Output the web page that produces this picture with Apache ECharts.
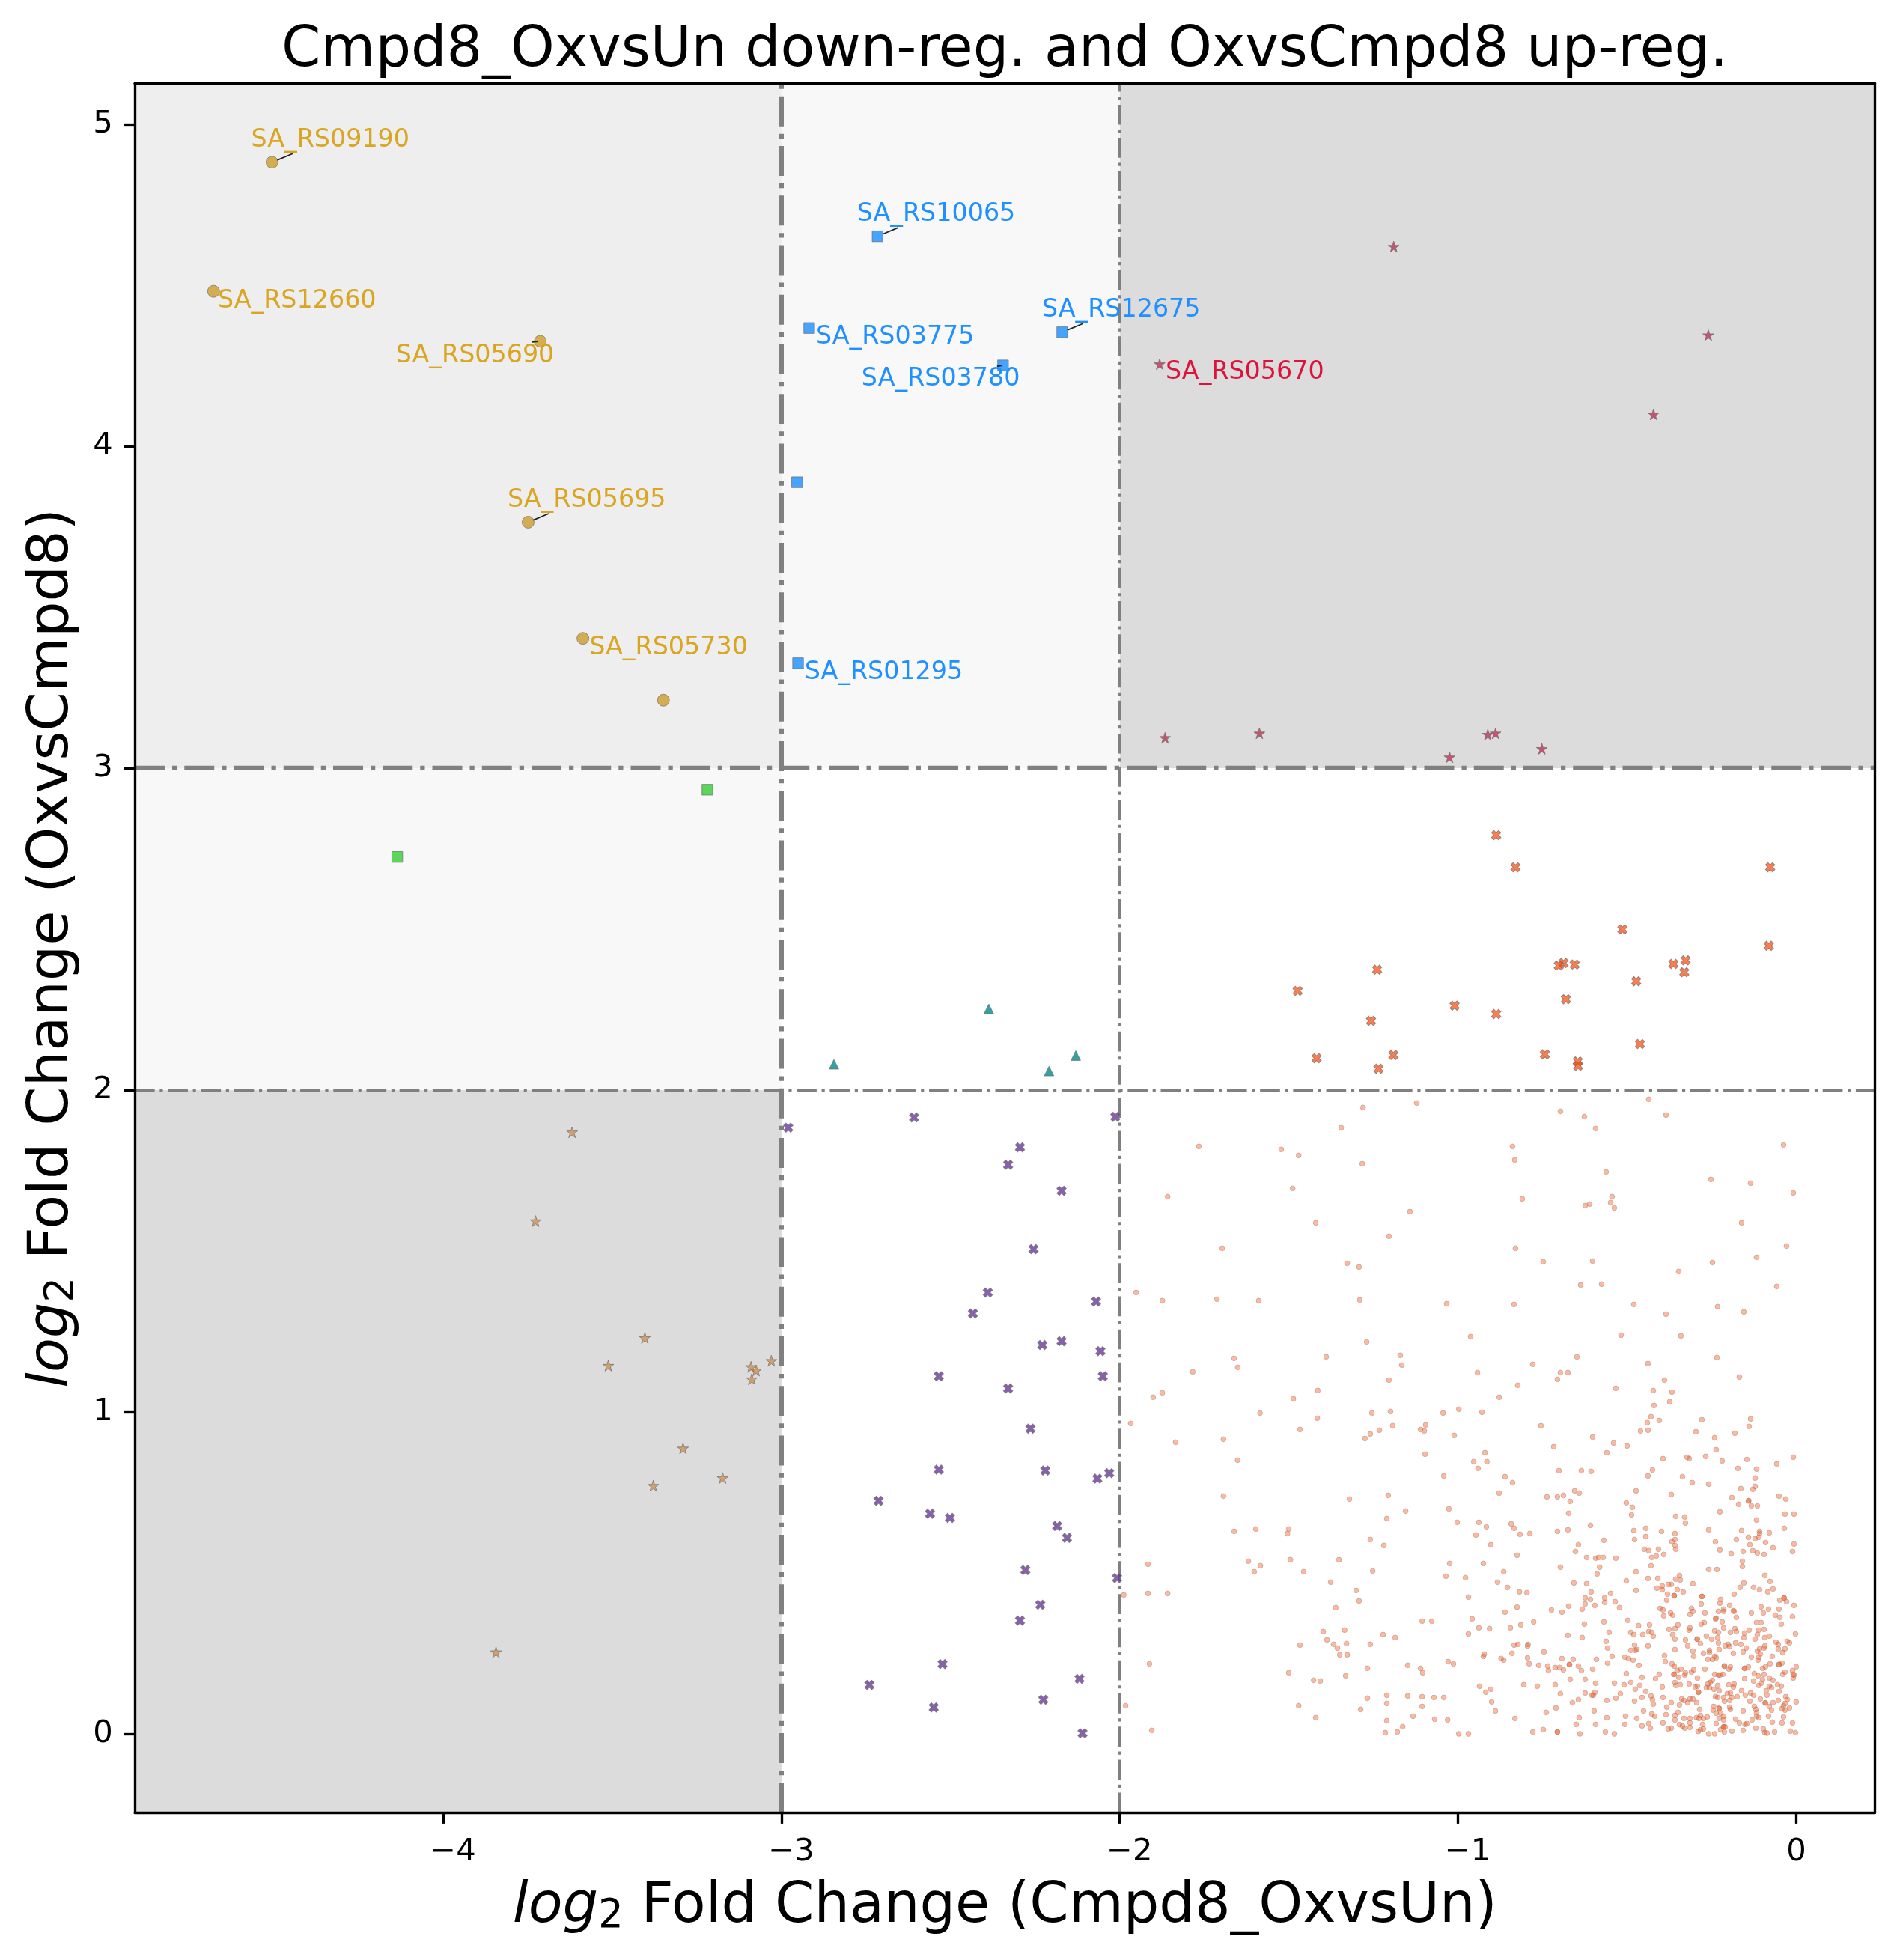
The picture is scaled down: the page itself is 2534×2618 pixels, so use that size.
<!DOCTYPE html>
<html><head><meta charset="utf-8">
<style>html,body{margin:0;padding:0;background:#fff}#c{width:2534px;height:2618px}</style>
<script src="https://cdn.jsdelivr.net/npm/echarts@6/dist/echarts.min.js"></script>
</head><body><div id="c"></div>
<script>
const titleText = 'Cmpd8_OxvsUn down-reg. and OxvsCmpd8 up-reg.';
const xTicks = [-4,-3,-2,-1,0];
const yTicks = [0,1,2,3,4,5];
const xCuts = [-3,-2];
const yCuts = [2,3];
const xMin = -4.912, xMax = 0.2326, yMin = -0.2449, yMax = 5.1267;

const goldPoints = [[-4.506,4.882,'SA_RS09190'],[-4.679,4.481,'SA_RS12660'],[-3.713,4.326,'SA_RS05690'],[-3.749,3.764,'SA_RS05695'],[-3.587,3.403,'SA_RS05730'],[-3.349,3.211,'']];
const bluePoints = [[-2.716,4.652,'SA_RS10065'],[-2.918,4.367,'SA_RS03775'],[-2.345,4.251,'SA_RS03780'],[-2.170,4.354,'SA_RS12675'],[-2.954,3.888,''],[-2.951,3.326,'SA_RS01295']];
const crimsonPoints = [[-1.190,4.620,''],[-1.882,4.255,'SA_RS05670'],[-0.260,4.345,''],[-0.422,4.099,''],[-1.866,3.094,''],[-1.587,3.108,''],[-1.025,3.034,''],[-0.912,3.104,''],[-0.889,3.108,''],[-0.752,3.060,'']];
const greenPoints = [[-4.136,2.724],[-3.219,2.933]];
const tealPoints = [[-2.845,2.080],[-2.387,2.252],[-2.209,2.059],[-2.130,2.107]];
const coralXPoints = [[-0.887,2.792],[-0.830,2.692],[-0.077,2.692],[-0.514,2.499],[-0.081,2.448],[-0.688,2.395],[-0.702,2.387],[-0.655,2.390],[-0.327,2.403],[-0.363,2.392],[-0.331,2.366],[-1.239,2.374],[-0.473,2.338],[-1.474,2.308],[-0.681,2.282],[-1.010,2.262],[-0.887,2.236],[-1.257,2.215],[-0.462,2.143],[-1.191,2.109],[-1.418,2.099],[-0.743,2.111],[-0.646,2.089],[-0.645,2.075],[-1.235,2.066]];
const tanStarPoints = [[-3.619,1.869],[-3.727,1.593],[-3.404,1.230],[-3.512,1.144],[-3.030,1.159],[-3.090,1.140],[-3.075,1.129],[-3.088,1.102],[-3.291,0.887],[-3.174,0.795],[-3.379,0.771],[-3.844,0.254]];
const purpleXPoints = [[-2.980,1.883],[-2.608,1.915],[-2.013,1.917],[-2.295,1.822],[-2.330,1.768],[-2.172,1.687],[-2.255,1.506],[-2.390,1.371],[-2.434,1.306],[-2.070,1.343],[-2.229,1.208],[-2.172,1.220],[-2.057,1.189],[-2.050,1.111],[-2.535,1.111],[-2.330,1.073],[-2.264,0.948],[-2.535,0.821],[-2.220,0.818],[-2.031,0.810],[-2.066,0.793],[-2.713,0.724],[-2.561,0.684],[-2.502,0.671],[-2.185,0.646],[-2.156,0.609],[-2.279,0.509],[-2.008,0.484],[-2.235,0.401],[-2.295,0.352],[-2.524,0.217],[-2.119,0.171],[-2.740,0.152],[-2.226,0.106],[-2.550,0.082],[-2.110,0.002]];

const smallUpperLeft = [[-1.1217,1.9597],[-1.2809,1.9457],[-1.3453,1.8829],[-1.7661,1.8248],[-1.5223,1.8155],[-1.4711,1.7969],[-1.2832,1.7713],[-1.489,1.6946],[-1.8585,1.669],[-1.1419,1.6225],[-1.4206,1.5876],[-1.204,1.5457],[-1.697,1.5085],[-1.3275,1.462],[-1.2925,1.4504],[-1.9517,1.3713],[-1.874,1.3457],[-1.7126,1.3504],[-1.5891,1.3457],[-1.2902,1.348],[-1.0332,1.336],[-1.27,1.2178],[-0.9625,1.2341],[-1.6621,1.1667],[-1.3896,1.1713],[-1.1706,1.176],[-1.6512,1.1387],[-1.166,1.1457],[-1.784,1.1248],[-0.9424,1.1225],[-1.204,1.0992],[-1.874,1.0597],[-1.9012,1.0457],[-1.4144,1.0667],[-1.4866,1.0411],[-1.5852,0.9969],[-1.2545,0.9969],[-1.1994,1.0016],[-1.0441,0.9969],[-0.9975,1.0085],[-0.9292,0.9992],[-1.416,0.9806]];
const smallUpperRight = [[-0.436,1.9713],[-0.6971,1.9341],[-0.6263,1.9178],[-0.385,1.9225],[-0.5931,1.8806],[-0.8388,1.8248],[-0.0376,1.8294],[-0.8322,1.7829],[-0.5621,1.7457],[-0.2522,1.7225],[-0.1349,1.7109],[-0.0088,1.6806],[-0.81,1.662],[-0.5444,1.669],[-0.5488,1.6504],[-0.6108,1.6457],[-0.6241,1.6411],[-0.5378,1.6341],[-0.1615,1.5876],[-0.0287,1.5155],[-0.83,1.5085],[-0.1172,1.4806],[-0.7481,1.4667],[-0.602,1.469],[-0.2478,1.4643],[-0.3474,1.4364],[-0.6374,1.3946],[-0.5754,1.3969],[-0.0575,1.39],[-0.8344,1.334],[-0.4802,1.334],[-0.2323,1.3271],[-0.385,1.3039],[-0.1549,1.3108],[-0.5179,1.2388],[-0.3408,1.2364],[-0.6484,1.1713],[-0.2345,1.169],[-0.779,1.1481],[-0.4382,1.1504],[-0.6971,1.1225],[-0.675,1.1225],[-0.706,1.1016],[-0.1681,1.1085],[-0.3895,1.0992],[-0.8233,1.0829],[-0.5334,1.0736],[-0.4227,1.0667],[-0.3674,1.062],[-0.8779,1.0457],[-0.374,1.0318],[-0.4205,1.0202],[-0.4293,0.9853],[-0.405,0.9736],[-0.2788,0.976],[-0.1349,0.9783],[-0.4404,0.9667]];
const smallLowerLeft = [[-1.9676,0.9643],[-1.8348,0.9062],[-1.6933,0.9155],[-1.6514,0.8503],[-1.4672,0.9457],[-1.2751,0.9178],[-1.2593,0.9317],[-1.2324,0.9434],[-1.1929,0.9573],[-1.1107,0.9457],[-1.0996,0.941],[-1.0956,0.9597],[-1.0111,0.9271],[-1.0972,0.869],[-0.9202,0.8736],[-0.9534,0.8457],[-0.9146,0.8457],[-0.9407,0.8248],[-1.0419,0.8015],[-0.8609,0.7992],[-0.8387,0.7806],[-0.8783,0.748],[-1.6933,0.7387],[-1.2063,0.741],[-1.3209,0.7294],[-1.0269,0.6992],[-1.1549,0.6922],[-1.2103,0.669],[-1.0023,0.6573],[-0.9383,0.6573],[-0.9162,0.6434],[-0.8427,0.6527],[-0.834,0.6387],[-0.947,0.6178],[-0.8166,0.6201],[-0.7874,0.6224],[-1.6617,0.6294],[-1.5976,0.6364],[-1.5004,0.6364],[-1.5043,0.6224],[-1.2593,0.6038],[-1.219,0.5852],[-0.9028,0.5876],[-0.8253,0.555],[-1.9162,0.5271],[-1.6198,0.5364],[-1.5842,0.5225],[-1.6024,0.5038],[-1.4956,0.541],[-1.3518,0.541],[-1.0245,0.5294],[-0.9249,0.5294],[-1.4561,0.5038],[-1.2522,0.5062],[-0.8648,0.5038],[-1.0356,0.4899],[-0.9779,0.4852],[-1.3763,0.4713],[-0.883,0.4713],[-0.8537,0.455],[-1.3012,0.4457],[-1.9881,0.4317],[-1.9162,0.4364],[-1.8585,0.4364],[-0.8182,0.441],[-0.7961,0.4387],[-0.9692,0.4248],[-1.2925,0.4131],[-0.8253,0.3938],[-1.3613,0.3922],[-0.8609,0.3783],[-0.9581,0.3573],[-1.106,0.3503],[-1.0774,0.3503],[-0.7763,0.348],[-0.8142,0.3387],[-0.9383,0.3294],[-0.9067,0.3271],[-0.845,0.3294],[-1.3984,0.3178],[-1.3352,0.3225],[-1.2213,0.3085],[-1.1858,0.2992],[-0.9692,0.3108],[-1.3873,0.2922],[-1.3676,0.2783],[-1.3296,0.2806],[-1.2593,0.2783],[-1.4672,0.2759],[-0.834,0.2759],[-0.8229,0.2783],[-0.7929,0.2783],[-0.7944,0.2728],[-1.3565,0.2666],[-1.3494,0.2457],[-1.3273,0.2457],[-0.9225,0.248],[-0.9249,0.241],[-0.8727,0.2341],[-0.8648,0.2294],[-0.8403,0.2504],[-0.7944,0.2364],[-1.0292,0.2248],[-1.0134,0.2178],[-1.9122,0.2178],[-0.7897,0.2178],[-1.1486,0.2131],[-1.1107,0.2038],[-1.1043,0.1899],[-1.268,0.2038],[-1.5004,0.1899],[-1.332,0.1806],[-1.4269,0.1666],[-1.4071,0.1643],[-0.936,0.148],[-0.8055,0.1527],[-0.9028,0.1387],[-0.9178,0.1294],[-1.2103,0.12],[-1.1486,0.1178],[-1.106,0.1155],[-1.0711,0.1131],[-1.0419,0.1131],[-1.268,0.1108],[-0.9004,0.0992],[-1.2103,0.0945],[-1.106,0.0852],[-1.4711,0.0875],[-1.9826,0.0875],[-1.2877,0.0759],[-0.8893,0.0713],[-1.1328,0.055],[-1.4205,0.0503],[-1.0687,0.0457],[-1.0308,0.0434],[-1.2103,0.041],[-0.8316,0.048],[-1.1636,0.0224],[-1.9051,0.0108],[-1.215,0.0038],[-1.1794,0.0061],[-0.9977,0],[-0.9692,0],[-0.7787,0.0061]];
const smallLowerRight = [[-0.7547,0.9573],[-0.4603,0.941],[-0.4381,0.9434],[-0.2965,0.9387],[-0.1814,0.9341],[-0.1393,0.955],[-0.6019,0.9224],[-0.2412,0.9201],[-0.717,0.8922],[-0.54,0.9038],[-0.5001,0.8945],[-0.5599,0.8736],[-0.2367,0.8829],[-0.3939,0.855],[-0.3231,0.8596],[-0.3164,0.855],[-0.2677,0.862],[-0.219,0.848],[-0.146,0.8527],[-0.0087,0.8596],[-0.0574,0.8387],[-0.1172,0.8224],[-0.1725,0.8248],[-0.7015,0.8178],[-0.6351,0.8178],[-0.6064,0.8155],[-0.4249,0.8201],[-0.4381,0.8015],[-0.3363,0.7992],[-0.3075,0.7806],[-0.2589,0.7759],[-0.1216,0.7945],[-0.1216,0.769],[-0.1283,0.7597],[-0.1637,0.762],[-0.4736,0.755],[-0.6551,0.755],[-0.6418,0.748],[-0.6883,0.741],[-0.706,0.7364],[-0.7369,0.7364],[-0.3695,0.7434],[-0.1902,0.7341],[-0.0508,0.7387],[-0.0309,0.7294],[-0.6683,0.7224],[-0.5023,0.7178],[-0.4846,0.7038],[-0.1703,0.7131],[-0.1408,0.724],[-0.1408,0.724],[-0.1327,0.7085],[-0.115,0.7085],[-0.6728,0.6852],[-0.4868,0.6806],[-0.2257,0.6899],[-0.0331,0.6829],[-0.0065,0.6829],[-0.3563,0.6759],[-0.3297,0.6736],[-0.3275,0.655],[-0.1172,0.6643],[-0.6086,0.648],[-0.706,0.6294],[-0.675,0.634],[-0.4802,0.6317],[-0.4448,0.6387],[-0.3983,0.6294],[-0.2589,0.634],[-0.0353,0.6387],[-0.1615,0.6317],[-0.1084,0.6294],[-0.1084,0.6224],[-0.0796,0.6248],[-0.3585,0.6224],[-0.4448,0.6131],[-0.478,0.6038],[-0.5687,0.6015],[-0.3585,0.6038],[-0.3673,0.5969],[-0.177,0.6038],[-0.1415,0.6108],[-0.1216,0.6062],[-0.1106,0.6108],[-0.2389,0.5969],[-0.0907,0.5945],[-0.644,0.5876],[-0.3585,0.5852],[-0.1371,0.5876],[-0.0065,0.5899],[-0.0685,0.5783],[-0.6528,0.5666],[-0.4492,0.5736],[-0.4359,0.569],[-0.4072,0.5736],[-0.3563,0.5736],[-0.2257,0.5713],[-0.157,0.5666],[-0.1283,0.569],[-0.115,0.562],[-0.0951,0.5573],[-0.011,0.5666],[-0.1925,0.5597],[-0.3917,0.5573],[-0.4138,0.5527],[-0.4271,0.548],[-0.6196,0.548],[-0.5931,0.5457],[-0.5842,0.548],[-0.5709,0.548],[-0.5333,0.5457],[-0.1593,0.5364],[-0.1593,0.5201],[-0.6971,0.5178],[-0.5813,0.5178],[-0.4293,0.5225],[-0.2589,0.5108],[-0.2345,0.5108],[-0.5887,0.4969],[-0.4736,0.5038],[-0.3452,0.4922],[-0.0929,0.4922],[-0.5023,0.4759],[-0.4381,0.4829],[-0.4094,0.4829],[-0.3563,0.4806],[-0.343,0.4783],[-0.0774,0.4736],[-0.6573,0.4689],[-0.6196,0.4666],[-0.3784,0.4643],[-0.3695,0.4643],[-0.3054,0.4666],[-0.1548,0.4689],[-0.3961,0.4596],[-0.4116,0.4527],[-0.3961,0.448],[-0.3518,0.448],[-0.1659,0.455],[-0.1261,0.455],[-0.1084,0.448],[-0.0685,0.4503],[-0.4736,0.4457],[-0.6064,0.441],[-0.3341,0.441],[-0.084,0.441],[-0.5488,0.4364],[-0.1836,0.4341],[-0.3806,0.4341],[-0.3607,0.4294],[-0.3607,0.4294],[-0.2788,0.427],[-0.2788,0.427],[-0.6241,0.4224],[-0.5665,0.4224],[-0.036,0.4224],[-0.036,0.4224],[-0.0486,0.4155],[-0.0287,0.4108],[-0.6086,0.4178],[-0.2234,0.4178],[-0.3828,0.4155],[-0.5665,0.4085],[-0.5355,0.4108],[-0.2257,0.4062],[-0.6241,0.4038],[-0.281,0.4038],[-0.5953,0.3992],[-0.6728,0.3969],[-0.1969,0.3992],[-0.0065,0.3992],[-0.5223,0.3922],[-0.6329,0.3876],[-0.1039,0.3945],[-0.4027,0.3899],[-0.3098,0.3899],[-0.2146,0.3876],[-0.2146,0.3806],[-0.0818,0.3876],[-0.0508,0.3876],[-0.7237,0.3852],[-0.3939,0.3852],[-0.3054,0.3806],[-0.2301,0.3806],[-0.1858,0.3829],[-0.1836,0.3806],[-0.6927,0.3783],[-0.3717,0.376],[-0.2699,0.376],[-0.1327,0.376],[-0.0973,0.376],[-0.3142,0.3713],[-0.3651,0.369],[-0.3917,0.3666],[-0.0619,0.369],[-0.177,0.362],[-0.0486,0.362],[-0.011,0.3643],[-0.2389,0.3573],[-0.2367,0.3596],[-0.4979,0.3527],[-0.5687,0.348],[-0.219,0.348],[-0.1172,0.3457],[-0.1039,0.3457],[-0.6263,0.341],[-0.281,0.341],[-0.2721,0.3457],[-0.0442,0.341],[-0.4662,0.3364],[-0.4337,0.3387],[-0.3496,0.3387],[-0.2146,0.3294],[-0.3762,0.3248],[-0.3585,0.3271],[-0.3142,0.3294],[-0.3164,0.3225],[-0.1814,0.3271],[-0.1393,0.3225],[-0.1106,0.3225],[-0.0951,0.3248],[-0.4359,0.3178],[-0.4271,0.3155],[-0.5532,0.3155],[-0.4891,0.3155],[-0.2412,0.3201],[-0.2301,0.3155],[-0.177,0.3178],[-0.1947,0.3155],[-0.1526,0.3131],[-0.4802,0.3085],[-0.4536,0.3085],[-0.3651,0.3085],[-0.115,0.3085],[-0.0021,0.3108],[-0.675,0.3062],[-0.4227,0.3038],[-0.2655,0.3038],[-0.0796,0.3038],[-0.6329,0.2992],[-0.2323,0.2992],[-0.0929,0.2992],[-0.1548,0.2992],[-0.3585,0.2945],[-0.2928,0.2945],[-0.2928,0.2945],[-0.25,0.2945],[-0.1216,0.2945],[-0.3275,0.2922],[-0.5621,0.2876],[-0.2301,0.2829],[-0.0597,0.2852],[-0.0265,0.2876],[-0.0198,0.2829],[-0.2832,0.2806],[-0.1792,0.2829],[-0.2013,0.2783],[-0.2102,0.2736],[-0.1969,0.2713],[-0.1637,0.2783],[-0.053,0.2783],[-0.478,0.2759],[-0.3208,0.2736],[-0.4381,0.2736],[-0.0929,0.2736],[-0.0951,0.2666],[-0.5577,0.2666],[-0.3585,0.262],[-0.1482,0.2666],[-0.1084,0.2643],[-0.115,0.2573],[-0.2279,0.262],[-0.053,0.2643],[-0.0331,0.2643],[-0.4891,0.2596],[-0.4758,0.2596],[-0.4713,0.262],[-0.3054,0.2573],[-0.2566,0.2596],[-0.2566,0.2527],[-0.7458,0.255],[-0.157,0.255],[-0.0398,0.2527],[-0.2744,0.2504],[-0.1858,0.2504],[-0.1062,0.248],[-0.3894,0.2434],[-0.3031,0.241],[-0.5444,0.241],[-0.5068,0.2387],[-0.2412,0.241],[-0.2367,0.2364],[-0.1327,0.2387],[-0.0707,0.241],[-0.1106,0.2387],[-0.6927,0.2341],[-0.6595,0.2318],[-0.4957,0.2341],[-0.5909,0.2318],[-0.2611,0.2318],[-0.2478,0.2318],[-0.1128,0.2294],[-0.4824,0.2294],[-0.3872,0.2248],[-0.5577,0.2201],[-0.6705,0.2155],[-0.6705,0.2155],[-0.7613,0.2131],[-0.7347,0.2108],[-0.644,0.2108],[-0.4647,0.2131],[-0.3673,0.2178],[-0.3607,0.2108],[-0.0774,0.2178],[-0.0508,0.2155],[-0.0508,0.2155],[-0.042,0.2201],[0,0.2085],[-0.7126,0.2062],[-0.6993,0.2062],[-0.6019,0.2015],[-0.6883,0.1992],[-0.7325,0.1969],[-0.6351,0.1969],[-0.2124,0.2108],[-0.2124,0.2108],[-0.1947,0.2085],[-0.1991,0.2015],[-0.1415,0.2085],[-0.1526,0.2038],[-0.1526,0.2038],[-0.0907,0.2085],[-0.0995,0.2038],[-0.2699,0.2015],[-0.3408,0.2015],[-0.3518,0.1969],[-0.3031,0.1992],[-0.3098,0.1922],[-0.011,0.1969],[-0.0331,0.1922],[-0.0398,0.1852],[-0.0088,0.1852],[-0.0065,0.1829],[-0.0088,0.1736],[-0.5023,0.1876],[-0.3275,0.1899],[-0.3297,0.1829],[-0.405,0.1852],[-0.3614,0.1852],[-0.3614,0.1852],[-0.2412,0.1852],[-0.2301,0.1829],[-0.2257,0.1829],[-0.2168,0.1852],[-0.1239,0.1876],[-0.1128,0.1806],[-0.0951,0.1852],[-0.4559,0.176],[-0.3474,0.176],[-0.2921,0.1736],[-0.0796,0.1736],[-0.416,0.1713],[-0.6683,0.169],[-0.6241,0.169],[-0.1526,0.1713],[-0.0995,0.169],[-0.0685,0.1666],[-0.2478,0.1666],[-0.1261,0.1643],[-0.2544,0.1596],[-0.2611,0.155],[-0.3585,0.1596],[-0.3563,0.1504],[-0.343,0.1527],[-0.5931,0.1573],[-0.5377,0.1573],[-0.4891,0.1596],[-0.3164,0.155],[-0.509,0.1527],[-0.7126,0.1527],[-0.7657,0.148],[-0.4625,0.1504],[-0.1039,0.1573],[-0.1106,0.1504],[-0.1836,0.155],[-0.1991,0.1527],[-0.1858,0.1457],[-0.2323,0.1504],[-0.0552,0.1527],[-0.0442,0.148],[-0.0796,0.148],[-0.073,0.1434],[-0.3961,0.1457],[-0.2921,0.148],[-0.2987,0.1457],[-0.2655,0.1434],[-0.2566,0.1434],[-0.4758,0.1387],[-0.2434,0.1387],[-0.2279,0.1341],[-0.1615,0.1341],[-0.0884,0.1341],[-0.0508,0.1318],[-0.4448,0.1318],[-0.2891,0.1294],[-0.2891,0.1294],[-0.5953,0.1294],[-0.1349,0.1271],[-0.1261,0.1201],[-0.1947,0.1271],[-0.2035,0.1248],[-0.6241,0.1271],[-0.52,0.1248],[-0.6971,0.1248],[-0.5997,0.1201],[-0.6041,0.1201],[-0.1504,0.1201],[-0.0862,0.1201],[-0.4293,0.1178],[-0.2389,0.1155],[-0.2323,0.1131],[-0.2146,0.1131],[-0.1902,0.1131],[-0.1747,0.1155],[-0.3939,0.1131],[-0.4559,0.1131],[-0.5333,0.1108],[-0.0309,0.1155],[-0.0265,0.1062],[-0.0331,0.0945],[-0.0375,0.0875],[-0.042,0.0782],[-0.644,0.1062],[-0.4249,0.1062],[-0.5599,0.1038],[-0.478,0.1015],[-0.3386,0.1085],[-0.3319,0.1038],[-0.3142,0.1085],[-0.3054,0.1085],[-0.1062,0.1085],[-0.2124,0.1015],[-0.1969,0.1038],[-0.1371,0.1015],[-0.3208,0.0969],[-0.2943,0.0969],[-0.053,0.1038],[-0.0685,0.0969],[0,0.0992],[-0.6617,0.0969],[-0.3695,0.0969],[-0.4227,0.0922],[-0.3452,0.0899],[-0.3828,0.0829],[-0.7104,0.0806],[-0.1239,0.0852],[-0.0914,0.0961],[-0.0914,0.0961],[-0.0796,0.0852],[-0.073,0.0736],[-0.2441,0.0852],[-0.2279,0.079],[-0.2279,0.079],[-0.1969,0.0829],[-0.1947,0.0759],[-0.0198,0.0806],[-0.0331,0.0736],[-0.1194,0.0759],[-0.1172,0.0666],[-0.2854,0.0759],[-0.2456,0.0736],[-0.4514,0.0713],[-0.5975,0.0713],[-0.7392,0.0666],[-0.157,0.0713],[-0.3496,0.0666],[-0.4271,0.062],[-0.4182,0.055],[-0.2367,0.0643],[-0.2234,0.0643],[-0.385,0.0597],[-0.3585,0.0573],[-0.0818,0.055],[-0.5046,0.055],[-0.2832,0.0573],[-0.2146,0.055],[-0.1172,0.055],[-0.1106,0.0503],[-0.6418,0.0503],[-0.5599,0.0503],[-0.4713,0.048],[-0.2949,0.0503],[-0.2876,0.048],[-0.2744,0.048],[-0.2633,0.0527],[-0.3319,0.048],[-0.3142,0.048],[-0.3585,0.0434],[-0.2279,0.048],[-0.2146,0.0434],[-0.1792,0.0457],[-0.1305,0.0434],[-0.0375,0.0527],[-0.1681,0.0341],[-0.0707,0.0364],[-0.3939,0.0341],[-0.042,0.0341],[-0.011,0.0341],[-0.3142,0.0341],[-0.2367,0.0318],[-0.6506,0.0294],[-0.5931,0.0294],[-0.5068,0.0294],[-0.4359,0.0318],[-0.2766,0.0294],[-0.146,0.0318],[-0.1512,0.0294],[-0.3452,0.0287],[-0.3363,0.0248],[-0.4559,0.0248],[-0.3297,0.0178],[-0.3142,0.0201],[-0.4315,0.0178],[-0.3695,0.0178],[-0.3784,0.0155],[-0.2146,0.0217],[-0.2146,0.0217],[-0.2234,0.0131],[-0.2102,0.0217],[-0.2744,0.0155],[-0.2832,0.0123],[-0.2898,0.0077],[-0.1194,0.0178],[-0.0973,0.0155],[-0.748,0.0131],[-0.2124,0.0062],[-0.1902,0.0085],[-0.157,0.0108],[-0.0929,0.0039],[-0.0864,0.0023],[-0.064,0.0062],[-0.0176,0.0085],[-0.0021,0.0039],[-0.5643,0.0062],[-0.706,0.0062],[-0.706,0.0062],[-0.6396,0],[-0.5377,0],[-0.2589,0],[-0.2412,0]];

/* ---------- styling below, values above ---------- */
const FONT = '"DejaVu Sans"';
const labelLayout = {
  SA_RS09190:[-28,-29,27.5,-11.5], SA_RS12660:[5.7,12.8], SA_RS05690:[-193,20,-11,1], SA_RS05695:[-27.5,-29,27.5,-11.5], SA_RS05730:[8.6,12.2],
  SA_RS10065:[-27.5,-29,27.5,-11.5], SA_RS03775:[9,12], SA_RS03780:[-189,18,-8,1], SA_RS12675:[-27,-29,27.5,-11.5], SA_RS01295:[8.6,12.2],
  SA_RS05670:[8,11]
};
const XPATH = 'path://M1 0L2 1L3 0L4 1L3 2L4 3L3 4L2 3L1 4L0 3L1 2L0 1Z';
function starPath(){
  let d='path://';
  for(let i=0;i<10;i++){
    const r=i%2?0.381966:1, a=-Math.PI/2+i*Math.PI/5;
    d+=(i?'L':'M')+(100+100*r*Math.cos(a)).toFixed(2)+' '+(100+100*r*Math.sin(a)).toFixed(2);
  }
  return d+'Z';
}
const STAR = starPath();
const edge = 'rgba(110,110,110,0.7)';
function pts(data,symbol,size,color,extra){
  return Object.assign({type:'scatter',data:data,symbol:symbol,symbolSize:size,z:3,silent:true,
    itemStyle:{color:color,borderColor:edge,borderWidth:1,opacity:1}},extra||{});
}
function cutLine(data,w,pat){
  return {type:'line',data:data,showSymbol:false,symbol:'none',z:2,silent:true,
    lineStyle:{color:'#808080',width:w,type:pat,cap:'butt',dashOffset:0}};
}
function labels(data,color){
  return {type:'custom',z:5,silent:true,clip:false,data:data.filter(d=>d[2]),
    encode:{x:0,y:1},
    renderItem:function(p,api){
      const name=data.filter(d=>d[2])[p.dataIndex][2];
      const c=api.coord([api.value(0),api.value(1)]);
      const L=labelLayout[name], kids=[];
      if(L.length>2){
        kids.push({type:'line',shape:{x1:c[0]+L[2]*0.25,y1:c[1]+L[3]*0.25,x2:c[0]+L[2],y2:c[1]+L[3]},style:{stroke:'#222',lineWidth:1.8}});
      }
      kids.push({type:'text',style:{text:name,x:c[0]+L[0],y:c[1]+L[1],fill:color,font:'33.33px '+FONT,textAlign:'left',textVerticalAlign:'middle'}});
      return {type:'group',children:kids};
    }};
}
const smallPoints = [].concat(smallUpperLeft,smallUpperRight,smallLowerLeft,smallLowerRight);
const rich = {
  i:{fontFamily:FONT,fontStyle:'italic',fontSize:75,color:'#000'},
  s:{fontFamily:FONT,fontSize:52.5,color:'#000',padding:[26,0,0,0]},
  n:{fontFamily:FONT,fontSize:75,color:'#000'}
};
const tickStyle = {show:true,length:14.6,inside:false,lineStyle:{color:'#000',width:3.33}};
const axisLine = {show:true,onZero:false,lineStyle:{color:'#000',width:3.33}};
const lbl = {fontFamily:FONT,fontSize:41.67,color:'#000',hideOverlap:false};
const minusFmt = v=>String(v).replace('-','\u2212');
const regions = [
  [[xMin,yCuts[1]],[xCuts[0],yMax],'#EEEEEE'],
  [[xCuts[0],yCuts[1]],[xCuts[1],yMax],'#F8F8F8'],
  [[xMin,yCuts[0]],[xCuts[0],yCuts[1]],'#F8F8F8'],
  [[xCuts[1],yCuts[1]],[xMax,yMax],'#DCDCDC'],
  [[xMin,yMin],[xCuts[0],yCuts[0]],'#DCDCDC']
];
const chart = echarts.init(document.getElementById('c'),null,{renderer:'canvas',width:2534,height:2618,devicePixelRatio:1});
chart.setOption({
  animation:false,
  backgroundColor:'#fff',
  title:{text:titleText,left:1337,top:26,textAlign:'center',textStyle:{fontFamily:FONT,fontSize:75,fontWeight:'normal',color:'#000'}},
  grid:{left:180,top:111.5,width:2324.5,height:2309.8,containLabel:false,outerBoundsMode:'none'},
  xAxis:[{type:'value',min:xMin,max:xMax,position:'bottom',z:10,axisLine:axisLine,
      splitLine:{show:false},axisTick:Object.assign({customValues:xTicks},tickStyle),
      axisLabel:Object.assign({customValues:xTicks,margin:32,align:'center',
        formatter:v=>v<0?'{neg|'+minusFmt(v)+'}':String(v),
        rich:{neg:{fontFamily:FONT,fontSize:41.67,color:'#000',padding:[0,0,0,26]}}},lbl),
      name:'{i|log}{s|2}{n| Fold Change (Cmpd8_OxvsUn)}',nameLocation:'middle',nameGap:87,nameTextStyle:{rich:rich}},
    {type:'value',min:xMin,max:xMax,position:'top',z:10,axisLine:axisLine,splitLine:{show:false},axisTick:{show:false},axisLabel:{show:false}}],
  yAxis:[{type:'value',min:yMin,max:yMax,position:'left',z:10,axisLine:axisLine,
      splitLine:{show:false},axisTick:Object.assign({customValues:yTicks},tickStyle),
      axisLabel:Object.assign({customValues:yTicks,formatter:minusFmt,margin:29.2,padding:[10,0,0,0]},lbl),
      name:'{i|log}{s|2}{n| Fold Change (OxvsCmpd8)}',nameLocation:'middle',nameGap:70,nameRotate:90,nameTextStyle:{rich:rich}},
    {type:'value',min:yMin,max:yMax,position:'right',z:10,axisLine:axisLine,splitLine:{show:false},axisTick:{show:false},axisLabel:{show:false}}],
  series:[
    {type:'scatter',data:[],z:1,silent:true,markArea:{silent:true,z:1,
      data:regions.map(r=>[{coord:r[0],itemStyle:{color:r[2],opacity:1,borderWidth:0}},{coord:r[1]}])}},
    cutLine([[xCuts[0],yMin],[xCuts[0],yMax]],6.25,[40,10,6.25,10]),
    cutLine([[xCuts[1],yMin],[xCuts[1],yMax]],4.17,[26.7,6.67,4.17,6.67]),
    cutLine([[xMin,yCuts[1]],[xMax,yCuts[1]]],6.25,[40,10,6.25,10]),
    cutLine([[xMin,yCuts[0]],[xMax,yCuts[0]]],4.17,[26.7,6.67,4.17,6.67]),
    pts(smallPoints,'circle',6.8,'rgba(255,69,0,0.5)',{itemStyle:{color:'rgba(255,69,0,0.48)',borderColor:'rgba(128,128,128,0.55)',borderWidth:0.9}}),
    pts(coralXPoints,XPATH,12.6,'rgba(255,69,0,0.7)'),
    pts(purpleXPoints,XPATH,12.6,'rgba(102,51,153,0.78)'),
    pts(tealPoints,'triangle',12.8,'rgba(0,139,139,0.8)'),
    pts(tanStarPoints,STAR,14.6,'rgba(205,133,63,0.7)'),
    pts(crimsonPoints,STAR,14.6,'rgba(190,50,85,0.8)'),
    pts(greenPoints,'rect',14.4,'rgba(50,205,50,0.8)'),
    pts(bluePoints,'rect',14.4,'rgba(30,144,255,0.82)'),
    pts(goldPoints,'circle',16,'rgba(205,155,40,0.78)'),
    labels(goldPoints,'#DAA520'),
    labels(bluePoints,'#1E90FF'),
    labels(crimsonPoints,'#DC143C')
  ]
});
</script></body></html>
